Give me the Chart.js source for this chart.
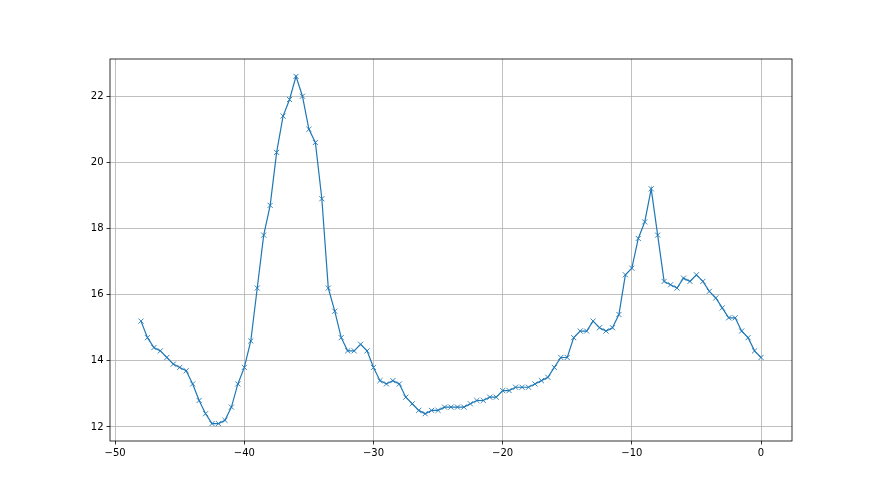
<!DOCTYPE html>
<html>
<head>
<meta charset="utf-8">
<script src="https://cdn.jsdelivr.net/npm/chart.js@4/dist/chart.umd.min.js"></script>
<style>
  html, body { margin: 0; padding: 0; background: #fff; }
  #wrap { width: 880px; height: 495px; }
</style>
</head>
<body>
<div id="wrap"><canvas id="c" width="880" height="495"></canvas></div>
<script>
// ---- data ----
const xValues = [
  -48, -47.5, -47, -46.5, -46, -45.5, -45, -44.5, -44, -43.5, -43, -42.5, -42, -41.5, -41, -40.5,
  -40, -39.5, -39, -38.5, -38, -37.5, -37, -36.5, -36, -35.5, -35, -34.5, -34, -33.5, -33, -32.5,
  -32, -31.5, -31, -30.5, -30, -29.5, -29, -28.5, -28, -27.5, -27, -26.5, -26, -25.5, -25, -24.5,
  -24, -23.5, -23, -22.5, -22, -21.5, -21, -20.5, -20, -19.5, -19, -18.5, -18, -17.5, -17, -16.5,
  -16, -15.5, -15, -14.5, -14, -13.5, -13, -12.5, -12, -11.5, -11, -10.5, -10, -9.5, -9, -8.5,
  -8, -7.5, -7, -6.5, -6, -5.5, -5, -4.5, -4, -3.5, -3, -2.5, -2, -1.5, -1, -0.5, 0
];
const yValues = [
  15.2, 14.7, 14.4, 14.3, 14.1, 13.9, 13.8, 13.7, 13.3, 12.8, 12.4, 12.1, 12.1, 12.2, 12.6, 13.3,
  13.8, 14.6, 16.2, 17.8, 18.7, 20.3, 21.4, 21.9, 22.6, 22.0, 21.0, 20.6, 18.9, 16.2, 15.5, 14.7,
  14.3, 14.3, 14.5, 14.3, 13.8, 13.4, 13.3, 13.4, 13.3, 12.9, 12.7, 12.5, 12.4, 12.5, 12.5, 12.6,
  12.6, 12.6, 12.6, 12.7, 12.8, 12.8, 12.9, 12.9, 13.1, 13.1, 13.2, 13.2, 13.2, 13.3, 13.4, 13.5,
  13.8, 14.1, 14.1, 14.7, 14.9, 14.9, 15.2, 15.0, 14.9, 15.0, 15.4, 16.6, 16.8, 17.7, 18.2, 19.2,
  17.8, 16.4, 16.3, 16.2, 16.5, 16.4, 16.6, 16.4, 16.1, 15.9, 15.6, 15.3, 15.3, 14.9, 14.7, 14.3, 14.1
];
const xTicks = [-50, -40, -30, -20, -10, 0];
const yTicks = [12, 14, 16, 18, 20, 22];
const xRange = [-50.4, 2.4];
const yRange = [11.575, 23.125];

// ---- chart ----
const points = xValues.map((x, i) => ({ x: x, y: yValues[i] }));
const fmt = v => (v < 0 ? '\u2212' + Math.abs(v) : String(v));
const tickFont = { family: "'Liberation Sans Narrow', 'DejaVu Sans'", size: 10 };

const frame = {
  id: 'frame',
  afterDraw(chart) {
    const a = chart.chartArea, ctx = chart.ctx;
    ctx.save();
    ctx.strokeStyle = '#000';
    ctx.lineWidth = 0.8;
    ctx.strokeRect(a.left, a.top, a.right - a.left, a.bottom - a.top);
    ctx.restore();
  }
};

new Chart(document.getElementById('c'), {
  type: 'scatter',
  data: {
    datasets: [{
      data: points,
      showLine: true,
      borderColor: '#1f77b4',
      borderWidth: 1.2,
      tension: 0,
      pointStyle: 'crossRot',
      pointRadius: 3.6,
      pointBorderWidth: 0.9,
      pointBorderColor: '#1f77b4',
      pointBackgroundColor: '#1f77b4'
    }]
  },
  options: {
    responsive: false,
    animation: false,
    events: [],
    layout: { padding: { left: 0, right: 88, top: 59, bottom: 0 } },
    plugins: { legend: { display: false }, tooltip: { enabled: false } },
    scales: {
      x: {
        type: 'linear',
        min: xRange[0], max: xRange[1],
        afterBuildTicks: s => { s.ticks = xTicks.map(v => ({ value: v })); },
        afterFit: s => { s.height = 54; },
        border: { display: false },
        grid: { color: '#b0b0b0', lineWidth: 0.8, tickColor: '#000', tickWidth: 0.8, tickLength: 3.5 },
        ticks: { color: '#000', padding: 3, maxRotation: 0, autoSkip: false,
                 font: tickFont, callback: v => fmt(v) }
      },
      y: {
        type: 'linear',
        min: yRange[0], max: yRange[1],
        afterBuildTicks: s => { s.ticks = yTicks.map(v => ({ value: v })); },
        afterFit: s => { s.width = 110; },
        border: { display: false },
        grid: { color: '#b0b0b0', lineWidth: 0.8, tickColor: '#000', tickWidth: 0.8, tickLength: 3.5 },
        ticks: { color: '#000', padding: 3, autoSkip: false,
                 font: tickFont, callback: v => fmt(v) }
      }
    }
  },
  plugins: [frame]
});
</script>
</body>
</html>
